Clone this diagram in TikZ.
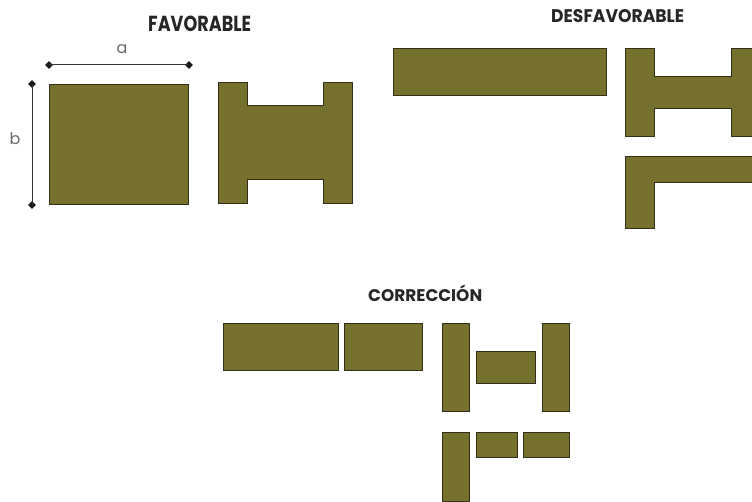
\documentclass[tikz,border=0pt]{standalone}
\usepackage{fontspec}
\setmainfont{Poppins}
\usepackage{graphicx}
\definecolor{olive}{RGB}{118,112,46}
\definecolor{edge}{RGB}{50,48,26}
\definecolor{lbl}{RGB}{105,105,105}
\tikzset{
  piece/.style={fill=olive,draw=edge,line width=1pt,line join=miter},
  title/.style={anchor=base west,inner sep=0pt,text=black!85},
  dimtip/.style={rectangle,fill=black!90,inner sep=0pt,minimum size=5.5pt,rotate=45},
  dimline/.style={draw=black!80,line width=1pt},
  dimlabel/.style={text=lbl,font=\fontsize{16}{16}\selectfont,inner sep=0pt}
}
\begin{document}
\begin{tikzpicture}[x=1pt,y=-1pt]
\useasboundingbox (0,0) rectangle (752,502);
\clip (0,0) rectangle (752,502);
% titles
\node[title] (tfav) at (148,32) {\resizebox{103pt}{15.5pt}{\bfseries FAVORABLE}};
\node[title] (tdes) at (551,23) {\resizebox{133pt}{13pt}{\bfseries DESFAVORABLE}};
\node[title] (tcor) at (368,302) {\resizebox{114pt}{12pt}{\bfseries CORRECCI\smash{Ó}N}};
% FAVORABLE
\draw[piece] (49,85) rectangle (188,205);
\draw[piece] (218,83) -- (247,83) -- (247,106) -- (323,106) -- (323,83) -- (352,83)
  -- (352,204) -- (323,204) -- (323,180) -- (247,180) -- (247,204) -- (218,204) -- cycle;
% dimensions
\node[dimtip] (a1) at (49,65) {};
\node[dimtip] (a2) at (189,65) {};
\draw[dimline] (a1.center) -- (a2.center);
\node[dimlabel] (la) at (122,49) {a};
\node[dimtip] (b1) at (32,84) {};
\node[dimtip] (b2) at (32,205) {};
\draw[dimline] (b1.center) -- (b2.center);
\node[dimlabel] (lb) at (15,139) {b};
% DESFAVORABLE
\draw[piece] (393,49) rectangle (606,96);
\draw[piece] (625,49) -- (654,49) -- (654,77) -- (731,77) -- (731,49) -- (770,49)
  -- (770,137) -- (731,137) -- (731,109) -- (654,109) -- (654,137) -- (625,137) -- cycle;
\draw[piece] (625,157) -- (770,157) -- (770,183) -- (654,183) -- (654,229) -- (625,229) -- cycle;
% CORRECCION
\draw[piece] (223,324) rectangle (338,370);
\draw[piece] (344,324) rectangle (422,370);
\draw[piece] (442,324) rectangle (469,411);
\draw[piece] (476,352) rectangle (535,383);
\draw[piece] (542,324) rectangle (569,411);
\draw[piece] (442,432) rectangle (469,501);
\draw[piece] (476,432) rectangle (517,457);
\draw[piece] (523,432) rectangle (569,457);
\end{tikzpicture}
\end{document}
